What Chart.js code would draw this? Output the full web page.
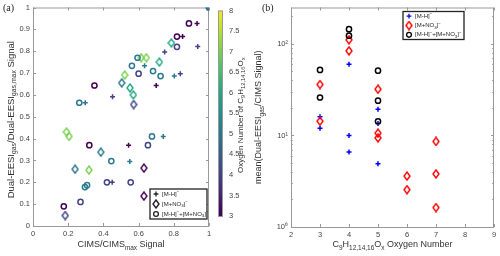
<!DOCTYPE html>
<html>
<head>
<meta charset="utf-8">
<script src="https://cdn.jsdelivr.net/npm/chart.js@4.4.1/dist/chart.umd.min.js"></script>
<style>
  body { margin: 0; background: #fff; }
  #wrap { position: relative; width: 500px; height: 256px; }
  canvas { position: absolute; top: 0; }
</style>
</head>
<body>
<div id="wrap">
  <canvas id="left" width="250" height="256" style="left:0"></canvas>
  <canvas id="cbar" width="40" height="256" style="left:210px"></canvas>
  <canvas id="right" width="250" height="256" style="left:250px"></canvas>
</div>
<script>
// ---- panel (a): normalised signals, coloured by oxygen number ----
const mhX = [0.932, 0.85, 0.936, 0.748, 0.634, 0.803, 0.837, 0.70, 0.452, 0.297, 0.543, 0.55, 0.45, 0.74];
const mhY = [0.927, 0.867, 0.822, 0.796, 0.733, 0.686, 0.697, 0.643, 0.592, 0.564, 0.37, 0.295, 0.2, 0.41];
const mhO = [3, 3, 4, 4, 5, 5, 4, 3, 4, 5, 3, 5, 4, 5];

const no3X = [0.786, 0.615, 0.644, 0.718, 0.521, 0.504, 0.551, 0.57, 0.572, 0.19, 0.205, 0.385, 0.239, 0.318, 0.63, 0.63, 0.183];
const no3Y = [0.838, 0.77, 0.77, 0.75, 0.691, 0.655, 0.632, 0.6, 0.556, 0.43, 0.41, 0.338, 0.26, 0.256, 0.265, 0.137, 0.048];
const no3O = [6, 7, 7, 6, 7, 5, 6, 6, 4, 7, 7, 5, 5, 7, 3, 3, 4];

const bothX = [0.886, 0.818, 0.818, 0.594, 0.562, 0.6, 0.682, 0.725, 0.349, 0.263, 0.32, 0.653, 0.676, 0.445, 0.42, 0.555, 0.295, 0.307, 0.27, 0.175];
const bothY = [0.927, 0.867, 0.82, 0.77, 0.733, 0.697, 0.709, 0.686, 0.643, 0.564, 0.37, 0.37, 0.41, 0.297, 0.2, 0.2, 0.178, 0.187, 0.11, 0.09];
const bothO = [3, 3, 4, 5, 5, 4, 5, 5, 3, 5, 3, 4, 5, 5, 4, 4, 5, 5, 4, 3];

const maxX = [1];
const maxY = [1];
const maxO = [5];

// colour bar range
const oxyMin = 3;
const oxyMax = 8;
const cbarSlices = 60;

// ---- panel (b): mean ratio per oxygen number ----
const rMhX = [3, 3, 4, 4, 4, 5, 5, 5];
const rMhY = [16, 12, 60, 10, 6.6, 19.3, 13.5, 4.9];
const rNo3X = [3, 3, 4, 4, 5, 5, 5, 6, 6, 7, 7, 7];
const rNo3Y = [36, 14.3, 111, 84, 32, 10.6, 9.4, 3.6, 2.56, 8.6, 3.8, 1.63];
const rBothX = [3, 3, 4, 4, 5, 5, 5];
const rBothY = [52, 26, 145, 123, 51, 24, 14.3];
const logTicks = [1, 2, 3, 4, 5, 6, 7, 8, 9, 10, 20, 30, 40, 50, 60, 70, 80, 90, 100, 200];
const logMajor = [1, 10, 100];
const supDigits = { '0': '\u2070', '1': '\u00b9', '2': '\u00b2' };

const FONT = "'Liberation Sans', Arial, sans-serif";
const TICK_COLOR = '#444';
const FRAME_COLOR = '#999';

const VIRIDIS = ['#440154', '#482475', '#414487', '#355f8d', '#2a788e', '#21918c',
                 '#22a884', '#44bf70', '#7ad151', '#bddf26', '#fde725'];

function hexRgb(h) {
    return [parseInt(h.slice(1, 3), 16), parseInt(h.slice(3, 5), 16), parseInt(h.slice(5, 7), 16)];
}
function viridis(t) {
    t = Math.max(0, Math.min(1, t));
    const p = t * (VIRIDIS.length - 1);
    const i = Math.min(Math.floor(p), VIRIDIS.length - 2);
    const f = p - i;
    const a = hexRgb(VIRIDIS[i]), b = hexRgb(VIRIDIS[i + 1]);
    const c = a.map((v, k) => Math.round(v + (b[k] - v) * f));
    return `rgb(${c[0]},${c[1]},${c[2]})`;
}
const cmap = o => viridis((o - oxyMin) / (oxyMax - oxyMin));

const diamondCache = {};
function diamond(color) {
    if (diamondCache[color]) return diamondCache[color];
    const c = document.createElement('canvas');
    c.width = 8; c.height = 10;
    const g = c.getContext('2d');
    g.strokeStyle = color;
    g.lineWidth = 1.4;
    g.beginPath();
    g.moveTo(4, 1); g.lineTo(7, 5); g.lineTo(4, 9); g.lineTo(1, 5);
    g.closePath();
    g.stroke();
    diamondCache[color] = c;
    return c;
}

const pts = (xs, ys) => xs.map((x, i) => ({ x: x, y: ys[i] }));

// text with sub/superscripts: segs = [[text, 'sub'|'sup'|undefined], ...]
function drawRich(ctx, segs, x, y, fs, align, rot, color) {
    ctx.save();
    ctx.translate(x, y);
    ctx.rotate(rot || 0);
    ctx.fillStyle = color || '#333';
    ctx.textBaseline = 'middle';
    ctx.textAlign = 'left';
    const size = s => (s[1] ? fs * 0.72 : fs);
    let w = 0;
    segs.forEach(s => { ctx.font = `${size(s)}px ${FONT}`; w += ctx.measureText(s[0]).width; });
    let cx = align === 'center' ? -w / 2 : (align === 'right' ? -w : 0);
    segs.forEach(s => {
        ctx.font = `${size(s)}px ${FONT}`;
        const dy = s[1] === 'sub' ? fs * 0.32 : (s[1] === 'sup' ? -fs * 0.35 : 0);
        ctx.fillText(s[0], cx, dy);
        cx += ctx.measureText(s[0]).width;
    });
    ctx.restore();
}

function line(ctx, x1, y1, x2, y2) {
    ctx.beginPath(); ctx.moveTo(x1, y1); ctx.lineTo(x2, y2); ctx.stroke();
}

// box around the axes with inward ticks, like the original figure
const framePlugin = {
    id: 'frame',
    beforeDatasetsDraw(chart, args, opts) {
        const { ctx, chartArea: a, scales } = chart;
        ctx.save();
        ctx.strokeStyle = FRAME_COLOR;
        ctx.lineWidth = 1;
        ctx.strokeRect(a.left + 0.5, a.top + 0.5, a.right - a.left - 1, a.bottom - a.top);
        const L = 3;
        scales.x.ticks.forEach(t => {
            const px = Math.round(scales.x.getPixelForValue(t.value)) + 0.5;
            line(ctx, px, a.bottom, px, a.bottom - L);
            line(ctx, px, a.top, px, a.top + L);
        });
        scales.y.ticks.forEach(t => {
            const py = Math.round(scales.y.getPixelForValue(t.value)) + 0.5;
            const len = opts.log && logMajor.indexOf(t.value) < 0 ? 1.8 : L;
            line(ctx, a.left, py, a.left + len, py);
            line(ctx, a.right, py, a.right - len, py);
        });
        ctx.restore();
    },
    afterDraw(chart, args, opts) {
        const { ctx, chartArea: a } = chart;
        (opts.titles || []).forEach(t => {
            drawRich(ctx, t.segs, t.x(a), t.y(a), t.fs, 'center', t.rot, '#333');
        });
        if (opts.panel) {
            ctx.save();
            ctx.font = "10px 'Liberation Serif', serif";
            ctx.fillStyle = '#222';
            ctx.textBaseline = 'middle';
            ctx.fillText(opts.panel.text, opts.panel.x, opts.panel.y);
            ctx.restore();
        }
        if (opts.legend) {
            const lg = opts.legend;
            const bx = lg.x(a), by = lg.y(a);
            ctx.save();
            ctx.fillStyle = '#fff';
            ctx.fillRect(bx, by, lg.w, lg.h);
            ctx.strokeStyle = '#222';
            ctx.lineWidth = 1.3;
            ctx.strokeRect(bx, by, lg.w, lg.h);
            lg.items.forEach((it, i) => {
                const cy = by + lg.h / (lg.items.length * 2) * (2 * i + 1);
                const style = it.style === 'diamond' ? diamond(it.color) : it.style;
                ctx.strokeStyle = it.color;
                Chart.helpers.drawPoint(ctx, {
                    pointStyle: style, radius: 2.4, borderWidth: 1.4, rotation: 0
                }, bx + 6, cy);
                drawRich(ctx, it.segs, bx + 12, cy, 6, 'left', 0, '#222');
            });
            ctx.restore();
        }
    }
};

// ---- left chart ----
function scatterSet(xs, ys, os, style, order) {
    const colors = os.map(cmap);
    return {
        data: pts(xs, ys),
        pointStyle: style === 'diamond' ? colors.map(diamond) : style,
        pointBorderColor: colors,
        pointBackgroundColor: 'rgba(0,0,0,0)',
        pointRadius: style === 'cross' ? 2.5 : 2.6,
        pointBorderWidth: 1.5,
        showLine: false,
        order: order
    };
}

const legendA = [
    { style: 'cross', color: '#222', segs: [['[M-H]'], ['\u2212', 'sup']] },
    { style: 'diamond', color: '#222', segs: [['[M+NO'], ['3', 'sub'], [']'], ['\u2212', 'sup']] },
    { style: 'circle', color: '#222', segs: [['[M-H]'], ['\u2212', 'sup'], ['+[M+NO'], ['3', 'sub'], [']'], ['\u2212', 'sup']] }
];

new Chart(document.getElementById('left'), {
    type: 'scatter',
    data: {
        datasets: [
            scatterSet(mhX, mhY, mhO, 'cross', 2),
            scatterSet(no3X, no3Y, no3O, 'diamond', 3),
            scatterSet(bothX, bothY, bothO, 'circle', 1),
            {
                data: pts(maxX, maxY),
                pointStyle: 'circle',
                pointRadius: 3.2,
                pointBorderWidth: 1,
                pointBorderColor: maxO.map(cmap),
                pointBackgroundColor: maxO.map(cmap),
                order: 0
            }
        ]
    },
    options: {
        responsive: false,
        animation: false,
        devicePixelRatio: 1,
        layout: { padding: { left: 0, top: 7, right: 41, bottom: 0 } },
        scales: {
            x: {
                type: 'linear', min: 0, max: 1,
                grid: { display: false, drawTicks: false },
                border: { display: false },
                ticks: { stepSize: 0.2, padding: 3, color: TICK_COLOR, font: { family: FONT, size: 7.5 },
                         callback: v => String(+v.toFixed(1)) },
                afterFit: s => { s.height = 30; }
            },
            y: {
                type: 'linear', min: 0, max: 1,
                grid: { display: false, drawTicks: false },
                border: { display: false },
                ticks: { stepSize: 0.1, padding: 3, color: TICK_COLOR, font: { family: FONT, size: 7.5 },
                         callback: v => String(+v.toFixed(1)) },
                afterFit: s => { s.width = 33; }
            }
        },
        plugins: {
            legend: { display: false },
            tooltip: { enabled: false },
            frame: {
                panel: { text: '(a)', x: 3, y: 8 },
                titles: [
                    { segs: [['CIMS/CIMS'], ['max', 'sub'], [' Signal']], fs: 9,
                      x: a => (a.left + a.right) / 2, y: a => 245, rot: 0 },
                    { segs: [['Dual-EESI'], ['gas', 'sub'], ['/Dual-EESI'], ['gas,max', 'sub'], [' Signal']], fs: 9.5,
                      x: a => 11, y: a => (a.top + a.bottom) / 2 + 3, rot: -Math.PI / 2 }
                ],
                legend: { x: a => a.right - 59, y: a => a.bottom - 37, w: 57, h: 30, items: legendA }
            }
        }
    },
    plugins: [framePlugin]
});

// ---- colour bar: thin floating bars stacked over one category ----
const cbarPlugin = {
    id: 'cbarFrame',
    afterDraw(chart) {
        const { ctx, chartArea: a } = chart;
        ctx.save();
        ctx.strokeStyle = FRAME_COLOR;
        ctx.lineWidth = 1;
        ctx.strokeRect(a.left + 0.5, a.top + 0.5, a.right - a.left - 1, a.bottom - a.top);
        ctx.restore();
        drawRich(ctx, [['Oxygen Number of C'], ['9', 'sub'], ['H'], ['12,14,16', 'sub'], ['O'], ['x', 'sub']],
                 31, (a.top + a.bottom) / 2 + 2, 8, 'center', -Math.PI / 2, '#333');
    }
};

const cbarSets = [];
for (let i = 0; i < cbarSlices; i++) {
    const lo = oxyMin + (oxyMax - oxyMin) * i / cbarSlices;
    const hi = oxyMin + (oxyMax - oxyMin) * (i + 1) / cbarSlices;
    cbarSets.push({
        data: [[lo, hi + 0.02]],
        backgroundColor: cmap((lo + hi) / 2),
        borderWidth: 0,
        barPercentage: 1,
        categoryPercentage: 1,
        grouped: false
    });
}

new Chart(document.getElementById('cbar'), {
    type: 'bar',
    data: { labels: [''], datasets: cbarSets },
    options: {
        responsive: false,
        animation: false,
        devicePixelRatio: 1,
        layout: { padding: { left: 8, top: 7, right: 0, bottom: 40 } },
        scales: {
            x: { display: false },
            y: {
                position: 'right', min: oxyMin, max: oxyMax,
                grid: { display: false, drawTicks: false },
                border: { display: false },
                ticks: { stepSize: 0.5, padding: 6, color: TICK_COLOR, font: { family: FONT, size: 7.5 },
                         callback: v => String(+v.toFixed(1)) },
                afterFit: s => { s.width = 27; }
            }
        },
        plugins: { legend: { display: false }, tooltip: { enabled: false } }
    },
    plugins: [cbarPlugin]
});

// ---- right chart ----
const legendB = [
    { style: 'cross', color: '#0000ff', segs: [['[M-H]'], ['\u2212', 'sup']] },
    { style: 'diamond', color: '#ff0000', segs: [['[M+NO'], ['3', 'sub'], [']'], ['\u2212', 'sup']] },
    { style: 'circle', color: '#000000', segs: [['[M-H]'], ['\u2212', 'sup'], ['+[M+NO'], ['3', 'sub'], [']'], ['\u2212', 'sup']] }
];

new Chart(document.getElementById('right'), {
    type: 'scatter',
    data: {
        datasets: [
            { data: pts(rMhX, rMhY), pointStyle: 'cross', pointRadius: 2.5, pointBorderWidth: 1.5,
              pointBorderColor: '#0000ff', order: 3 },
            { data: pts(rNo3X, rNo3Y), pointStyle: diamond('#ff0000'), pointRadius: 3,
              pointBorderColor: '#ff0000', order: 2 },
            { data: pts(rBothX, rBothY), pointStyle: 'circle', pointRadius: 2.6, pointBorderWidth: 1.5,
              pointBorderColor: '#000000', pointBackgroundColor: 'rgba(0,0,0,0)', order: 1 }
        ]
    },
    options: {
        responsive: false,
        animation: false,
        devicePixelRatio: 1,
        layout: { padding: { left: 0, top: 7, right: 6, bottom: 0 } },
        scales: {
            x: {
                type: 'linear', min: 2, max: 9,
                grid: { display: false, drawTicks: false },
                border: { display: false },
                ticks: { stepSize: 1, padding: 3, color: TICK_COLOR, font: { family: FONT, size: 7.5 } },
                afterFit: s => { s.height = 29; }
            },
            y: {
                type: 'logarithmic', min: 1, max: 250,
                grid: { display: false, drawTicks: false },
                border: { display: false },
                afterBuildTicks: s => { s.ticks = logTicks.map(v => ({ value: v, major: logMajor.indexOf(v) >= 0 })); },
                ticks: {
                    autoSkip: false, padding: 3, color: TICK_COLOR, font: { family: FONT, size: 7.5 },
                    callback: v => logMajor.indexOf(v) >= 0
                        ? '10' + supDigits[String(Math.round(Math.log10(v)))] : ''
                },
                afterFit: s => { s.width = 41; }
            }
        },
        plugins: {
            legend: { display: false },
            tooltip: { enabled: false },
            frame: {
                log: true,
                panel: { text: '(b)', x: 12, y: 8 },
                titles: [
                    { segs: [['C'], ['9', 'sub'], ['H'], ['12,14,16', 'sub'], ['O'], ['x', 'sub'], [' Oxygen Number']], fs: 9,
                      x: a => (a.left + a.right) / 2, y: a => 245, rot: 0 },
                    { segs: [['mean(Dual-EESI'], ['gas', 'sub'], ['/CIMS Signal)']], fs: 9,
                      x: a => 9, y: a => (a.top + a.bottom) / 2, rot: -Math.PI / 2 }
                ],
                legend: { x: a => a.left + 112, y: a => a.top + 4, w: 61, h: 28, items: legendB }
            }
        }
    },
    plugins: [framePlugin]
});
</script>
</body>
</html>
